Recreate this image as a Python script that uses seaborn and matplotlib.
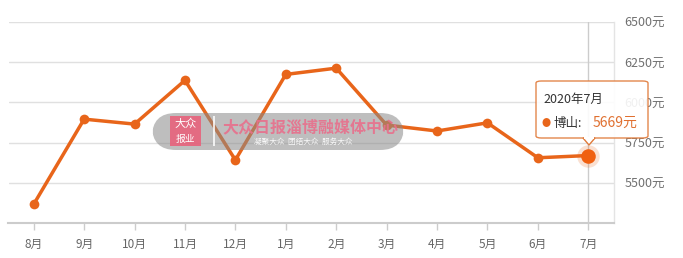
import matplotlib
matplotlib.use("Agg")
import matplotlib.pyplot as plt
import seaborn as sns
import pandas as pd
from matplotlib.patches import FancyBboxPatch, Polygon, Rectangle

months = ["8月", "9月", "10月", "11月", "12月", "1月", "2月", "3月", "4月", "5月", "6月", "7月"]
prices = [5365, 5896, 5865, 6138, 5641, 6175, 6214, 5859, 5822, 5873, 5655, 5669]
yticks = [5500, 5750, 6000, 6250, 6500]
tip_title = "2020年7月"
tip_series = "博山"
tip_value = "5669元"

sns.set_theme(style="white")
plt.rcParams['font.family'] = ['Noto Sans CJK SC', 'DejaVu Sans']

W, H = 683, 258
fig = plt.figure(figsize=(W / 100, H / 100), dpi=100)

def fx(px):
    return px / W

def fy(py):
    return 1 - py / H

ax_l, ax_r, ax_t, ax_b = 8.5, 613.5, 22.3, 222.7
ax = fig.add_axes([fx(ax_l), fy(ax_b), fx(ax_r - ax_l), (ax_b - ax_t) / H])

orange = "#e8651a"
df = pd.DataFrame({"x": range(len(months)), "price": prices})
for v in yticks:
    ax.axhline(v, color="#e0e0e0", lw=1, zorder=0)
# crosshair
ax.axvline(len(months) - 1, color="#cccccc", lw=1, zorder=0)

sns.lineplot(data=df, x="x", y="price", ax=ax, color=orange, lw=2.5,
             marker="o", markersize=7, markeredgewidth=0, zorder=3)
# highlight last point
last = len(months) - 1
ax.scatter([last], [prices[-1]], s=260, color=orange, alpha=0.2, lw=0, zorder=4)
ax.scatter([last], [prices[-1]], s=110, color="#f06010", lw=0, zorder=5)

ax.set_xlim(-0.5, len(months) - 0.5)
ax.set_ylim(5250, 6500)
ax.set_xticks(range(len(months)))
ax.set_xticklabels(months)
ax.set_yticks(yticks)
ax.set_yticklabels([f"{v}元" for v in yticks])
ax.yaxis.tick_right()
ax.tick_params(axis="y", length=0, pad=8, labelsize=9, labelcolor="#707070")
ax.tick_params(axis="x", length=5, width=1, color="#cccccc", pad=6, labelsize=8.5,
               labelcolor="#666666", bottom=True)
ax.set_xlabel("")
ax.set_ylabel("")
for s in ["top", "left"]:
    ax.spines[s].set_visible(False)
ax.spines["right"].set_color("#e4e4e4")
ax.spines["right"].set_linewidth(1)
ax.spines["bottom"].set_color("#cccccc")
ax.spines["bottom"].set_linewidth(1.5)
ax.patch.set_alpha(0)

# watermark
wm = FancyBboxPatch((fx(152), fy(150)), fx(252), (150 - 113) / H,
                    boxstyle="round,pad=0,rounding_size=0.035",
                    transform=fig.transFigure, facecolor="#8a8a8a", alpha=0.55,
                    edgecolor="none", zorder=10, mutation_aspect=W / H)
fig.patches.append(wm)
logo = Rectangle((fx(170), fy(146)), fx(31), 30 / H, transform=fig.transFigure,
                 facecolor="#e8627c", edgecolor="none", alpha=0.9, zorder=11)
fig.patches.append(logo)
fig.text(fx(185.5), fy(124), "大众", color="white", fontsize=8, ha="center", va="center",
         fontstyle="italic", zorder=12)
fig.text(fx(185.5), fy(139), "报业", color="white", fontsize=7, ha="center", va="center",
         zorder=12)
sep = Rectangle((fx(213), fy(146)), 1.5 / W, 30 / H, transform=fig.transFigure,
                facecolor="white", edgecolor="none", alpha=0.8, zorder=11)
fig.patches.append(sep)
fig.text(fx(222), fy(127), "大众日报淄博融媒体中心", color="#e8708c", fontsize=11.5,
         ha="left", va="center", zorder=12, fontweight="bold", alpha=0.9)
fig.text(fx(254), fy(142), "凝聚大众  团结大众  服务大众", color="white", fontsize=5.5,
         ha="left", va="center", zorder=12, alpha=0.9)

# tooltip
tip = FancyBboxPatch((fx(536), fy(138)), fx(112), (138 - 81) / H,
                     boxstyle="round,pad=0,rounding_size=0.008",
                     transform=fig.transFigure, facecolor="white", alpha=0.9,
                     edgecolor="#e07a3a", lw=1, zorder=20)
fig.patches.append(tip)
tri = Polygon([(fx(583), fy(138)), (fx(595), fy(138)), (fx(589), fy(145))],
              closed=True, transform=fig.transFigure, facecolor="white",
              edgecolor="#e07a3a", lw=1, zorder=21)
fig.patches.append(tri)
cover = Rectangle((fx(583.8), fy(139.2)), fx(10.4), 2.2 / H, transform=fig.transFigure,
                  facecolor="white", edgecolor="none", zorder=22)
fig.patches.append(cover)
fig.text(fx(543), fy(99), tip_title, color="#333333", fontsize=9, ha="left", va="center",
         zorder=23)
fig.text(fx(546), fy(123.5), "●", color=orange, fontsize=6.5, ha="center", va="center",
         zorder=23)
fig.text(fx(553), fy(123), tip_series + ":", color="#333333", fontsize=9, ha="left",
         va="center", zorder=23)
fig.text(fx(593), fy(123), tip_value, color="#e07030", fontsize=10, ha="left",
         va="center", zorder=23)

fig.savefig("out.png", dpi=100)
